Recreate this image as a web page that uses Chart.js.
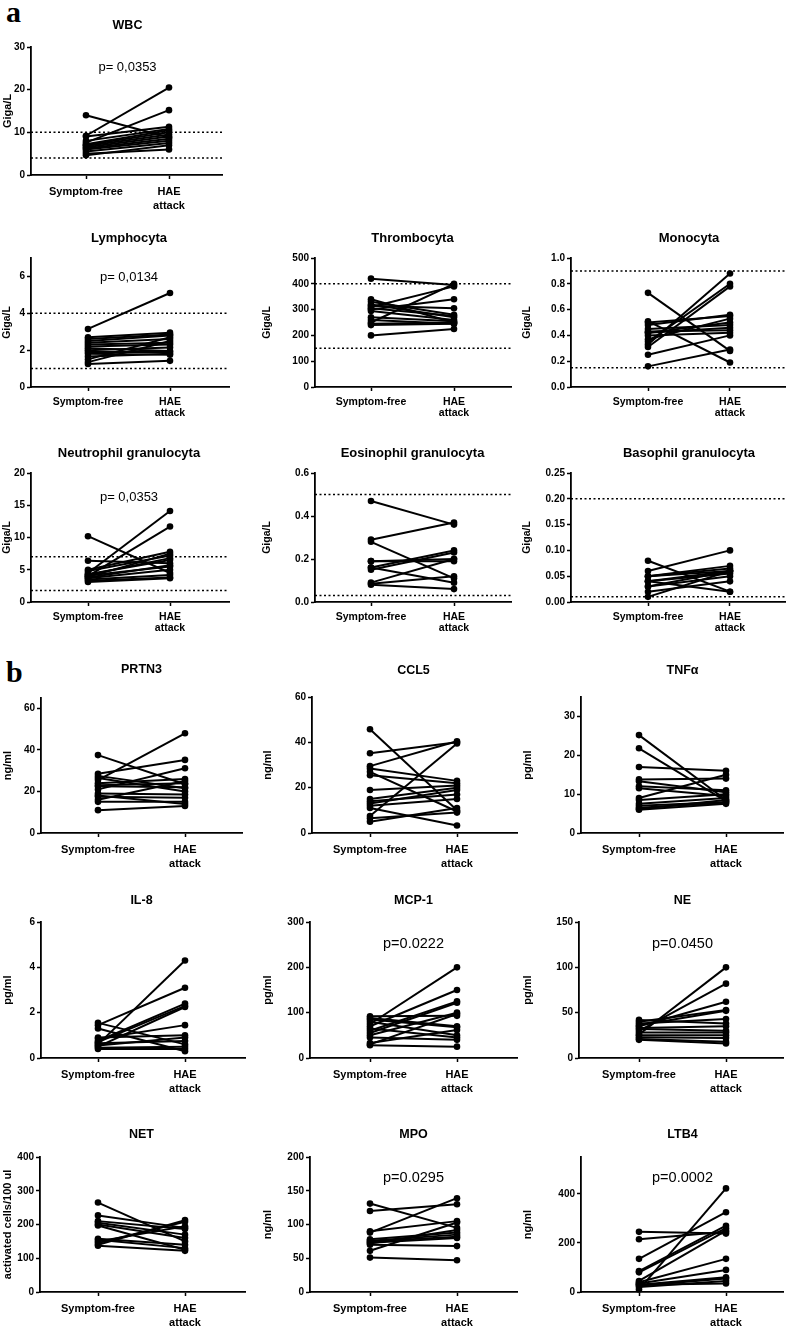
<!DOCTYPE html>
<html>
<head>
<meta charset="utf-8">
<script src="https://cdn.jsdelivr.net/npm/chart.js@4.4.1/dist/chart.umd.min.js"></script>
<style>
  body { margin: 0; background: #fff; width: 789px; height: 1328px; position: relative; overflow: hidden; }
  canvas { position: absolute; }
  .panel-letter { position: absolute; font: bold 30px "Liberation Serif", "Times New Roman", serif; line-height: 1; }
</style>
</head>
<body>
<div class="panel-letter" style="left:6px;top:-3px">a</div>
<div class="panel-letter" style="left:6px;top:657px">b</div>
<script>
/* x categories (paired samples) */
const groups = ["Symptom-free", ["HAE", "attack"]];

/* panel a - blood counts */
const wbcFree = [14.0, 9.2, 7.6, 9.0, 8.0, 7.2, 7.0, 6.8, 6.5, 6.2, 6.0, 5.5, 5.0, 4.6];
const wbcAttack = [8.8, 20.5, 15.2, 11.3, 10.8, 10.5, 10.0, 9.5, 9.0, 8.5, 8.0, 7.5, 6.0, 7.0];
const wbcTicks = [0, 10, 20, 30];
const wbcRefs = [10, 4];

const lymphoFree = [3.15, 2.7, 2.6, 2.5, 2.4, 2.3, 2.2, 2.1, 2.0, 1.9, 1.8, 1.65, 1.5, 1.35, 1.25];
const lymphoAttack = [5.1, 2.95, 2.85, 2.8, 2.6, 2.4, 2.3, 1.95, 2.15, 1.9, 1.75, 1.8, 2.7, 2.5, 1.42];
const lymphoTicks = [0, 2, 4, 6];
const lymphoRefs = [4, 1];

const thromboFree = [420, 340, 330, 320, 315, 310, 305, 300, 295, 270, 260, 250, 245, 240, 200];
const thromboAttack = [395, 250, 280, 270, 305, 390, 275, 340, 260, 255, 245, 400, 250, 245, 225];
const thromboTicks = [0, 100, 200, 300, 400, 500];
const thromboRefs = [400, 150];

const monoFree = [0.73, 0.51, 0.50, 0.48, 0.45, 0.43, 0.42, 0.40, 0.37, 0.35, 0.33, 0.31, 0.25, 0.16, 0.42];
const monoAttack = [0.28, 0.19, 0.55, 0.56, 0.48, 0.44, 0.50, 0.42, 0.53, 0.80, 0.88, 0.78, 0.40, 0.29, 0.46];
const monoTicks = [0, 0.2, 0.4, 0.6, 0.8, 1.0];
const monoRefs = [0.9, 0.15];

const neutroFree = [10.2, 6.4, 5.0, 4.8, 4.5, 4.3, 4.1, 4.0, 3.9, 3.8, 3.7, 3.5, 3.3, 3.1, 4.2];
const neutroAttack = [4.5, 6.0, 7.8, 7.2, 14.1, 6.5, 5.5, 11.7, 7.5, 5.7, 5.0, 4.2, 3.8, 3.7, 6.8];
const neutroTicks = [0, 5, 10, 15, 20];
const neutroRefs = [7, 1.8];

const eosFree = [0.47, 0.29, 0.28, 0.19, 0.19, 0.16, 0.15, 0.16, 0.09, 0.085, 0.08];
const eosAttack = [0.36, 0.37, 0.11, 0.19, 0.20, 0.24, 0.23, 0.09, 0.20, 0.12, 0.06];
const eosTicks = [0, 0.2, 0.4, 0.6];
const eosRefs = [0.5, 0.03];

const basoFree = [0.08, 0.06, 0.05, 0.05, 0.05, 0.04, 0.04, 0.03, 0.03, 0.02, 0.01, 0.04];
const basoAttack = [0.02, 0.10, 0.07, 0.06, 0.065, 0.06, 0.02, 0.05, 0.06, 0.04, 0.06, 0.055];
const basoTicks = [0, 0.05, 0.10, 0.15, 0.20, 0.25];
const basoRefs = [0.2, 0.01];

/* panel b - mediators */
const prtn3Free = [37.5, 28.5, 27.5, 26.5, 25.5, 24, 22.5, 21, 19, 17.5, 16, 15, 11, 23, 18];
const prtn3Attack = [23.5, 35.2, 21.5, 20, 48, 26, 22, 31.2, 18.5, 17, 25, 15, 13, 24, 14];
const prtn3Ticks = [0, 20, 40, 60];

const ccl5Free = [45.8, 35.2, 29.5, 28.5, 27, 25.5, 19, 15, 14, 13, 12, 11, 7.5, 6.5, 5];
const ccl5Attack = [10, 40, 40.5, 23, 9.5, 22, 21, 20, 17, 19, 15, 3.3, 39.5, 9, 11];
const ccl5Ticks = [0, 20, 40, 60];

const tnfFree = [25.2, 21.8, 17, 13.8, 13.3, 12, 11.5, 9, 8.5, 7.5, 7, 6.5, 6.2, 6];
const tnfAttack = [8.5, 8.2, 16, 14, 10.5, 11, 9.5, 15, 10, 9, 8, 7.8, 8.5, 7.5];
const tnfTicks = [0, 10, 20, 30];

const il8Free = [1.55, 1.45, 1.3, 0.9, 0.85, 0.75, 0.7, 0.65, 0.6, 0.55, 0.5, 0.45, 0.4];
const il8Attack = [0.6, 3.1, 0.3, 1.0, 1.45, 2.4, 2.3, 0.75, 4.3, 0.9, 2.25, 0.5, 0.4];
const il8Ticks = [0, 2, 4, 6];

const mcp1Free = [92, 88, 85, 80, 75, 70, 65, 60, 55, 50, 33, 30, 28, 45];
const mcp1Attack = [93, 70, 68, 50, 200, 150, 45, 125, 122, 100, 62, 97, 25, 40];
const mcp1Ticks = [0, 100, 200, 300];

const neFree = [42, 40, 38, 35, 33, 32, 30, 28, 26, 25, 23, 21, 20, 36];
const neAttack = [38, 53, 43, 62, 35, 30, 82, 28, 100, 25, 22, 18, 16, 52];
const neTicks = [0, 50, 100, 150];

const netFree = [265, 227, 210, 205, 200, 197, 158, 155, 150, 145, 140, 137];
const netAttack = [150, 190, 187, 170, 160, 125, 140, 130, 195, 208, 213, 122];
const netTicks = [0, 100, 200, 300, 400];

const mpoFree = [131, 120, 90, 88, 78, 76, 75, 73, 72, 70, 61, 51];
const mpoAttack = [95, 130, 105, 139, 88, 85, 82, 80, 92, 68, 103, 47];
const mpoTicks = [0, 50, 100, 150, 200];

const ltb4Free = [245, 215, 135, 85, 80, 45, 40, 35, 30, 25, 20, 10, 30];
const ltb4Attack = [238, 245, 325, 270, 260, 250, 135, 90, 60, 55, 45, 422, 35];
const ltb4Ticks = [0, 200, 400];

/* fonts: GraphPad look - arial bold for WBC and b, narrower settings for the rest of a */
const STYLES = {
  wide: { family: '"Liberation Sans", Arial, sans-serif', title: 12.5, tick: 10, label: 11, lh: 1.25, ytitle: 11, p: 14.5, labelPad: 6 },
  narrow: { family: '"Liberation Sans Narrow", "Arial Narrow", "Liberation Sans", sans-serif', title: 13, tick: 10, label: 10.5, lh: 1.05, ytitle: 10.5, p: 13, labelPad: 6 },
};

/* panel layout: left = column start, x0/x1 = x axis ends, cat0/cat1 = category pixels, top/bottom = y axis ends */
const panels = [
  { title: "WBC", yTitle: "Giga/L", free: wbcFree, attack: wbcAttack, yMax: 30, yTicks: wbcTicks, refs: wbcRefs, dec: 0, p: "p= 0,0353", style: "wide", left: 0, x0: 31, x1: 222, cat0: 86, cat1: 169, top: 47, bottom: 175, titleGap: 21, pGap: 20, pSize: 13 },
  { title: "Lymphocyta", yTitle: "Giga/L", free: lymphoFree, attack: lymphoAttack, yMax: 7, yTicks: lymphoTicks, refs: lymphoRefs, dec: 0, p: "p= 0,0134", style: "narrow", left: 0, x0: 31, x1: 229, cat0: 88, cat1: 170, top: 258, bottom: 387, titleGap: 20, pGap: 19 },
  { title: "Thrombocyta", yTitle: "Giga/L", free: thromboFree, attack: thromboAttack, yMax: 500, yTicks: thromboTicks, refs: thromboRefs, dec: 0, style: "narrow", left: 260, x0: 315, x1: 511, cat0: 371, cat1: 454, top: 258, bottom: 387, titleGap: 20 },
  { title: "Monocyta", yTitle: "Giga/L", free: monoFree, attack: monoAttack, yMax: 1.0, yTicks: monoTicks, refs: monoRefs, dec: 1, style: "narrow", left: 520, x0: 571, x1: 785, cat0: 648, cat1: 730, top: 258, bottom: 387, titleGap: 20 },
  { title: "Neutrophil granulocyta", yTitle: "Giga/L", free: neutroFree, attack: neutroAttack, yMax: 20, yTicks: neutroTicks, refs: neutroRefs, dec: 0, p: "p= 0,0353", style: "narrow", left: 0, x0: 31, x1: 229, cat0: 88, cat1: 170, top: 473, bottom: 602, titleGap: 20, pGap: 24 },
  { title: "Eosinophil granulocyta", yTitle: "Giga/L", free: eosFree, attack: eosAttack, yMax: 0.6, yTicks: eosTicks, refs: eosRefs, dec: 1, style: "narrow", left: 260, x0: 315, x1: 511, cat0: 371, cat1: 454, top: 473, bottom: 602, titleGap: 20 },
  { title: "Basophil granulocyta", yTitle: "Giga/L", free: basoFree, attack: basoAttack, yMax: 0.25, yTicks: basoTicks, refs: basoRefs, dec: 2, style: "narrow", left: 520, x0: 571, x1: 785, cat0: 648, cat1: 730, top: 473, bottom: 602, titleGap: 20 },

  { title: "PRTN3", yTitle: "ng/ml", free: prtn3Free, attack: prtn3Attack, yMax: 65, yTicks: prtn3Ticks, dec: 0, style: "wide", left: 0, x0: 41, x1: 242, cat0: 98, cat1: 185, top: 698, bottom: 833, titleGap: 28 },
  { title: "CCL5", yTitle: "ng/ml", free: ccl5Free, attack: ccl5Attack, yMax: 60, yTicks: ccl5Ticks, dec: 0, style: "wide", left: 260, x0: 312, x1: 517, cat0: 370, cat1: 457, top: 697, bottom: 833, titleGap: 26 },
  { title: "TNFα", yTitle: "pg/ml", free: tnfFree, attack: tnfAttack, yMax: 35, yTicks: tnfTicks, dec: 0, style: "wide", left: 520, x0: 581, x1: 783, cat0: 639, cat1: 726, top: 697, bottom: 833, titleGap: 26 },
  { title: "IL-8", yTitle: "pg/ml", free: il8Free, attack: il8Attack, yMax: 6, yTicks: il8Ticks, dec: 0, style: "wide", left: 0, x0: 41, x1: 245, cat0: 98, cat1: 185, top: 922, bottom: 1058, titleGap: 21 },
  { title: "MCP-1", yTitle: "pg/ml", free: mcp1Free, attack: mcp1Attack, yMax: 300, yTicks: mcp1Ticks, dec: 0, p: "p=0.0222", style: "wide", left: 260, x0: 310, x1: 517, cat0: 370, cat1: 457, top: 922, bottom: 1058, titleGap: 21, pGap: 22 },
  { title: "NE", yTitle: "pg/ml", free: neFree, attack: neAttack, yMax: 150, yTicks: neTicks, dec: 0, p: "p=0.0450", style: "wide", left: 520, x0: 579, x1: 783, cat0: 639, cat1: 726, top: 922, bottom: 1058, titleGap: 21, pGap: 22 },
  { title: "NET", yTitle: "activated cells/100 ul", free: netFree, attack: netAttack, yMax: 400, yTicks: netTicks, dec: 0, style: "wide", left: 0, x0: 40, x1: 245, cat0: 98, cat1: 185, top: 1157, bottom: 1292, titleGap: 22 },
  { title: "MPO", yTitle: "ng/ml", free: mpoFree, attack: mpoAttack, yMax: 200, yTicks: mpoTicks, dec: 0, p: "p=0.0295", style: "wide", left: 260, x0: 310, x1: 517, cat0: 370, cat1: 457, top: 1157, bottom: 1292, titleGap: 22, pGap: 21 },
  { title: "LTB4", yTitle: "ng/ml", free: ltb4Free, attack: ltb4Attack, yMax: 550, yTicks: ltb4Ticks, dec: 0, p: "p=0.0002", style: "wide", left: 520, x0: 581, x1: 783, cat0: 639, cat1: 726, top: 1157, bottom: 1292, titleGap: 22, pGap: 21 },
];

/* titles and p values, centred between the two categories */
const panelText = {
  id: "panelText",
  afterDraw(chart, args, opts) {
    const { ctx, chartArea, scales } = chart;
    const cx = scales.x.getPixelForValue(0.5);
    ctx.save();
    ctx.fillStyle = "#000";
    ctx.textAlign = "center";
    ctx.textBaseline = "middle";
    ctx.font = "bold " + opts.titleSize + "px " + opts.family;
    ctx.fillText(opts.title, cx, chartArea.top - opts.titleGap);
    if (opts.p) {
      ctx.font = opts.pSize + "px " + opts.family;
      ctx.fillText(opts.p, cx, chartArea.top + opts.pGap);
    }
    ctx.restore();
  },
};

function buildPanel(p) {
  const st = STYLES[p.style];
  const canvasTop = p.top - p.titleGap - 14;
  const cv = document.createElement("canvas");
  cv.width = p.x1 - p.left + 6;
  cv.height = p.bottom - canvasTop + 44;
  cv.style.left = p.left + "px";
  cv.style.top = canvasTop + "px";
  document.body.appendChild(cv);

  /* linear x so the two categories sit where GraphPad put them */
  const unit = p.cat1 - p.cat0;
  const xMin = -(p.cat0 - p.x0) / unit;
  const xMax = 1 + (p.x1 - p.cat1) / unit;

  const datasets = p.free.map((v, i) => ({
    data: [{ x: 0, y: v }, { x: 1, y: p.attack[i] }],
    showLine: true,
    borderColor: "#000",
    backgroundColor: "#000",
    borderWidth: 2,
    pointRadius: 3.3,
    pointBorderWidth: 0,
    clip: false,
  }));
  /* dotted reference range */
  (p.refs || []).forEach((r) => {
    datasets.push({
      data: [{ x: xMin, y: r }, { x: xMax, y: r }],
      showLine: true,
      borderColor: "#000",
      borderWidth: 1.5,
      borderDash: [2, 2.5],
      pointRadius: 0,
      clip: false,
    });
  });

  const axisLine = { display: true, color: "#000", width: 1.8 };
  const tickMarks = { display: true, drawOnChartArea: false, drawTicks: true, tickLength: 4, tickColor: "#000", tickWidth: 1.5 };

  new Chart(cv, {
    type: "scatter",
    data: { datasets },
    options: {
      responsive: false,
      animation: false,
      events: [],
      layout: { padding: { top: p.top - canvasTop, right: 6, left: 0, bottom: 0 } },
      plugins: {
        legend: { display: false },
        tooltip: { enabled: false },
        panelText: { title: p.title, titleGap: p.titleGap, titleSize: st.title, family: st.family, p: p.p, pGap: p.pGap, pSize: p.pSize || st.p },
      },
      scales: {
        x: {
          type: "linear",
          min: xMin,
          max: xMax,
          border: axisLine,
          grid: tickMarks,
          afterBuildTicks: (s) => { s.ticks = [{ value: 0 }, { value: 1 }]; },
          afterFit: (s) => { s.height = 44; },
          ticks: {
            autoSkip: false,
            maxRotation: 0,
            padding: st.labelPad,
            color: "#000",
            font: { family: st.family, size: st.label, weight: "bold", lineHeight: st.lh },
            callback: (v) => (v === 0 ? groups[0] : groups[1]),
          },
        },
        y: {
          type: "linear",
          min: 0,
          max: p.yMax,
          border: axisLine,
          grid: tickMarks,
          afterBuildTicks: (s) => { s.ticks = p.yTicks.map((v) => ({ value: v })); },
          afterFit: (s) => { s.width = p.x0 - p.left; },
          ticks: {
            padding: 2,
            color: "#000",
            font: { family: st.family, size: st.tick, weight: "bold" },
            callback: (v) => v.toFixed(p.dec),
          },
          title: {
            display: true,
            text: p.yTitle,
            color: "#000",
            padding: { top: 1, bottom: 0 },
            font: { family: '"Liberation Sans", Arial, sans-serif', size: st.ytitle, weight: "bold" },
          },
        },
      },
    },
    plugins: [panelText],
  });
}

panels.forEach(buildPanel);
</script>
</body>
</html>
